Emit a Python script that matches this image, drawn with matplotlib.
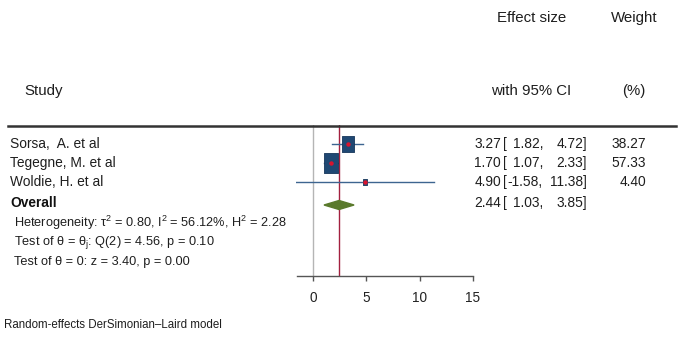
import matplotlib
matplotlib.use("Agg")
import matplotlib.pyplot as plt
from matplotlib.lines import Line2D
from matplotlib.patches import Polygon
import numpy as np

plt.rcParams['font.family'] = ['Liberation Sans', 'DejaVu Sans']
plt.rcParams['mathtext.fontset'] = 'custom'
plt.rcParams['mathtext.rm'] = 'Liberation Sans'
plt.rcParams['mathtext.it'] = 'Liberation Sans:italic'

# data
studies = ["Sorsa,  A. et al", "Tegegne, M. et al", "Woldie, H. et al"]
effect = [3.27, 1.70, 4.90]
ci_low = [1.82, 1.07, -1.58]
ci_high = [4.72, 2.33, 11.38]
weight = [38.27, 57.33, 4.40]
overall = 2.44
overall_low = 1.03
overall_high = 3.85
xticks = [0, 5, 10, 15]
stats_lines = [
    "Heterogeneity: τ$^2$ = 0.80, I$^2$ = 56.12%, H$^2$ = 2.28",
    "Test of θ = θ$_\\mathrm{j}$: Q(2) = 4.56, p = 0.10",
    "Test of θ = 0: z = 3.40, p = 0.00",
]

W, H = 685, 340
fig = plt.figure(figsize=(W / 100, H / 100), dpi=100)


def fx(px):
    return px / W


def fy(py):
    return 1 - py / H


# plot axes: pixel layout, y data = pixels above the axis line
px_per = 10.667
x0 = 313
left_px = x0 - 1.6 * px_per
right_px = x0 + 15.2 * px_per
ax = fig.add_axes([fx(left_px), (H - 276) / H, (right_px - left_px) / W, 151 / H])
ax.set_xlim(-1.6, 15.2)
ax.set_ylim(0, 151)
ax.patch.set_alpha(0)
for s in ['top', 'right', 'left']:
    ax.spines[s].set_visible(False)
ax.spines['bottom'].set_bounds(-1.5, 15)
ax.spines['bottom'].set_color('#555555')
ax.spines['bottom'].set_linewidth(1.0)
ax.set_yticks([])
ax.set_xticks(xticks)
ax.tick_params(axis='x', length=3.5, width=1.0, color='#555555', pad=7, labelsize=9.8,
               labelcolor='#222222')

row_y = [132, 113, 94]
diamond_y = 71

ax.axvline(0, color='#b5b5b5', lw=1.0, zorder=1)
ax.axvline(overall, color='#a3203f', lw=1.0, zorder=1)

box_verts = [(-0.36, -0.5), (0.36, -0.5), (0.36, 0.5), (-0.36, 0.5), (-0.36, -0.5)]
for i in range(len(studies)):
    ax.plot([ci_low[i], ci_high[i]], [row_y[i], row_y[i]], color='#3d6590', lw=1.0, zorder=2)
    size = 1.9 * np.sqrt(weight[i])
    ax.plot(effect[i], row_y[i], marker=box_verts, markersize=size,
            color='#1f4873', markeredgecolor='#16365a', markeredgewidth=0.6, zorder=3)
    ax.plot(effect[i], row_y[i], marker='o', markersize=3.2, color='#d8142e',
            markeredgewidth=0, zorder=4)

dia = Polygon([(overall_low, diamond_y), (overall, diamond_y + 4.5),
               (overall_high, diamond_y), (overall, diamond_y - 4.5)],
              closed=True, facecolor='#5a7a2c', edgecolor='#5a7a2c', zorder=3)
ax.add_patch(dia)

# header rule
fig.add_artist(Line2D([fx(8), fx(676)], [fy(126), fy(126)], color='#333333', lw=1.8))

hs = 10.8
rs = 9.9
tc = '#1e1e1e'

# headers
fig.text(fx(532), fy(18), "Effect size", ha='center', va='center', fontsize=hs, color=tc)
fig.text(fx(634), fy(18), "Weight", ha='center', va='center', fontsize=hs, color=tc)
fig.text(fx(24), fy(91), "Study", ha='left', va='center', fontsize=hs, color=tc)
fig.text(fx(531), fy(91), "with 95% CI", ha='center', va='center', fontsize=hs, color=tc)
fig.text(fx(634), fy(91), "(%)", ha='center', va='center', fontsize=hs, color=tc)

# study rows
text_y = [144, 163, 182]
for i, name in enumerate(studies):
    fig.text(fx(10), fy(text_y[i]), name, ha='left', va='center', fontsize=rs, color=tc)
    fig.text(fx(501), fy(text_y[i]), f"{effect[i]:.2f}", ha='right', va='center', fontsize=rs, color=tc)
    fig.text(fx(503), fy(text_y[i]), "[", ha='left', va='center', fontsize=rs, color=tc)
    fig.text(fx(543), fy(text_y[i]), f"{ci_low[i]:.2f},", ha='right', va='center', fontsize=rs, color=tc)
    fig.text(fx(587), fy(text_y[i]), f"{ci_high[i]:.2f}]", ha='right', va='center', fontsize=rs, color=tc)
    fig.text(fx(646), fy(text_y[i]), f"{weight[i]:.2f}", ha='right', va='center', fontsize=rs, color=tc)

fig.text(fx(10), fy(203), "Overall", ha='left', va='center', fontsize=rs, fontweight='bold', color='#111111')
fig.text(fx(501), fy(203), f"{overall:.2f}", ha='right', va='center', fontsize=rs, color=tc)
fig.text(fx(503), fy(203), "[", ha='left', va='center', fontsize=rs, color=tc)
fig.text(fx(543), fy(203), f"{overall_low:.2f},", ha='right', va='center', fontsize=rs, color=tc)
fig.text(fx(587), fy(203), f"{overall_high:.2f}]", ha='right', va='center', fontsize=rs, color=tc)

stats_y = [223, 242, 262]
for line, yy in zip(stats_lines, stats_y):
    fig.text(fx(14), fy(yy), line, ha='left', va='center', fontsize=9.2, color=tc)

fig.text(fx(4), fy(325), "Random-effects DerSimonian\u2013Laird model", ha='left', va='center',
         fontsize=8.3, color=tc)

fig.savefig("out.png", dpi=100)
